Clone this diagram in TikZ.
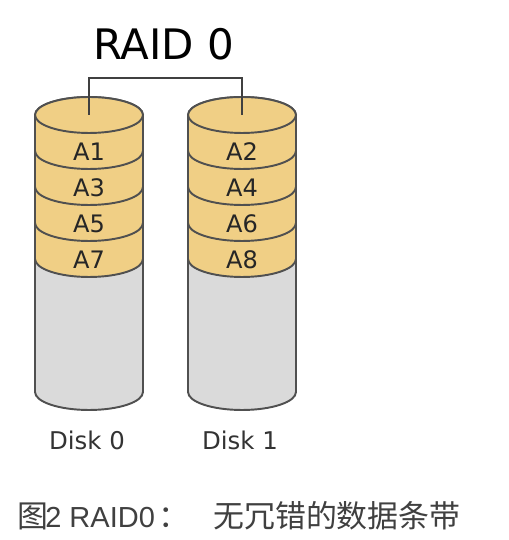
\documentclass[tikz,border=0pt]{standalone}
\usepackage{fontspec}
\setmainfont{DejaVu Sans}
\newfontfamily\cjk{Noto Sans CJK SC}
\newfontfamily\capfont{Liberation Sans}
\usetikzlibrary{positioning}
\definecolor{bandYellow}{HTML}{F0CF85}
\definecolor{bodyGray}{HTML}{DADADA}
\definecolor{edgeGray}{HTML}{505050}
\tikzset{
  disk/.style={draw=edgeGray, line width=1.1pt},
  band/.style={disk, fill=bandYellow},
  body/.style={disk, fill=bodyGray},
  conn/.style={draw=black!75, line width=0.85pt},
  title/.style={inner sep=0, font=\fontsize{23.9}{28}\selectfont},
  blabel/.style={inner sep=0, font=\fontsize{13.7}{16}\selectfont, text=black!85},
  dlabel/.style={inner sep=0, font=\fontsize{13.9}{16}\selectfont, text=black!80},
  caption/.style={inner sep=0, anchor=west, font=\fontsize{17.6}{20}\selectfont, text=black!75}
}

\begin{document}
\begin{tikzpicture}[x=0.02cm, y=0.02cm]
    \useasboundingbox (0,0) rectangle (508,540);
    \node[title] (raid) at (163.5,495.5) {RAID 0};

    \foreach \cx/\d in {89/0, 242/1} {
      % grey body under the stripes
      \draw[body] (\cx-54,281) -- (\cx-54,148)
        arc[start angle=180, end angle=360, x radius=1.08cm, y radius=0.36cm]
        -- (\cx+54,281)
        arc[start angle=0, end angle=180, x radius=1.08cm, y radius=0.36cm] -- cycle;
      % stripes, bottom one first
      \foreach \i in {3,2,1,0} {
        \pgfmathsetmacro\yt{425-36*\i}
        \pgfmathtruncatemacro\n{2*\i+1+\d}
        \draw[band] (\cx-54,\yt) -- (\cx-54,\yt-36)
          arc[start angle=180, end angle=360, x radius=1.08cm, y radius=0.36cm]
          -- (\cx+54,\yt)
          arc[start angle=0, end angle=180, x radius=1.08cm, y radius=0.36cm] -- cycle;
        \node[blabel] (a\n) at (\cx,\yt-37) {A\n};
      }
      \draw[band] (\cx,425) ellipse[x radius=1.08cm, y radius=0.36cm];
      \coordinate (top\d) at (\cx,425);
      \node[dlabel] (disk\d) at (\cx-2,100) {Disk \d};
    }

    \draw[conn] (top0) -- ++(0,37) -| (top1);

    \node[caption] (cap) at (17,24) {\makebox[0.56cm][l]{\cjk 图}\makebox[2.26cm][l]{\capfont\fontsize{16.5}{20}\selectfont 2 RAID0}\makebox[1.1cm][l]{\cjk ：}{\cjk 无冗错的数据条带}};
\end{tikzpicture}
\end{document}
